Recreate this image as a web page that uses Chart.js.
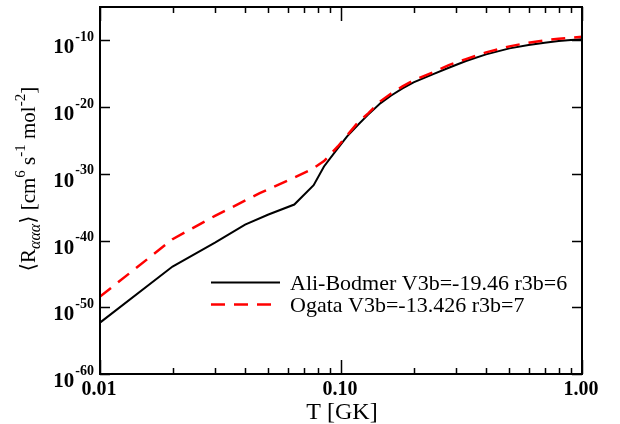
<!DOCTYPE html>
<html>
<head>
<meta charset="utf-8">
<script src="https://cdn.jsdelivr.net/npm/chart.js@4/dist/chart.umd.min.js"></script>
<style>
html,body{margin:0;padding:0;background:#fff;}
canvas{display:block;}
</style>
</head>
<body>
<canvas id="c" width="620" height="424"></canvas>
<script>
// ---- data ----
const aliT = [0.01, 0.02, 0.03, 0.04, 0.05, 0.064, 0.077, 0.085, 0.095, 0.106, 0.118, 0.129, 0.146, 0.161, 0.18, 0.2, 0.24, 0.28, 0.33, 0.4, 0.5, 0.6, 0.7, 0.8, 0.9, 1.0];
const aliR = [5.0e-53, 1.26e-44, 5.0e-41, 2.5e-38, 7.9e-37, 2.5e-35, 2.0e-32, 1.26e-29, 2.5e-27, 4.0e-25, 2.5e-23, 6.3e-22, 4.0e-20, 5.0e-19, 6.3e-18, 5.0e-17, 7.9e-16, 7.9e-15, 7.9e-14, 7.9e-13, 6.3e-12, 2.0e-11, 4.5e-11, 7.9e-11, 1.12e-10, 1.41e-10];
const ogataT = [0.01, 0.02, 0.03, 0.046, 0.062, 0.075, 0.085, 0.097, 0.117, 0.13, 0.146, 0.161, 0.18, 0.2, 0.24, 0.28, 0.33, 0.4, 0.5, 0.6, 0.7, 0.8, 0.9, 1.0];
const ogataR = [4.0e-49, 1.58e-40, 5.0e-37, 1.26e-33, 1.58e-31, 4.0e-30, 7.9e-29, 1.26e-26, 4.0e-23, 1.26e-21, 7.9e-20, 1.0e-18, 1.26e-17, 1.0e-16, 1.58e-15, 2.0e-14, 1.58e-13, 1.58e-12, 1.26e-11, 4.5e-11, 1.0e-10, 1.78e-10, 2.5e-10, 3.5e-10];
const seriesNames = ['Ali-Bodmer V3b=-19.46 r3b=6', 'Ogata V3b=-13.426 r3b=7'];
const xMajorTicks = [0.01, 0.1, 1];
const xTickLabels = ['0.01', '0.10', '1.00'];
const xMinorTicks = [0.02,0.03,0.04,0.05,0.06,0.07,0.08,0.09,0.2,0.3,0.4,0.5,0.6,0.7,0.8,0.9];
const yTicks = [1e-60, 1e-50, 1e-40, 1e-30, 1e-20, 1e-10];
const yTickExp = ['-60', '-50', '-40', '-30', '-20', '-10'];
const xTitle = 'T [GK]';

const SERIF = '"Liberation Serif","Times New Roman","DejaVu Serif",serif';

const decorPlugin = {
  id: 'decor',
  afterDraw(chart) {
    const ctx = chart.ctx;
    const xs = chart.scales.x, ys = chart.scales.y;
    const a = chart.chartArea;
    ctx.save();
    ctx.strokeStyle = '#000';
    ctx.fillStyle = '#000';
    // frame
    ctx.lineWidth = 2;
    ctx.strokeRect(a.left, a.top, a.right - a.left, a.bottom - a.top);
    // ticks (inward)
    ctx.lineWidth = 1.5;
    ctx.beginPath();
    xMajorTicks.forEach(v => {
      const px = Math.round(xs.getPixelForValue(v)) + 0.5;
      ctx.moveTo(px, a.bottom); ctx.lineTo(px, a.bottom - 14);
      ctx.moveTo(px, a.top); ctx.lineTo(px, a.top + 14);
    });
    xMinorTicks.forEach(v => {
      const px = Math.round(xs.getPixelForValue(v)) + 0.5;
      ctx.moveTo(px, a.bottom); ctx.lineTo(px, a.bottom - 6);
      ctx.moveTo(px, a.top); ctx.lineTo(px, a.top + 6);
    });
    yTicks.forEach(v => {
      const py = Math.round(ys.getPixelForValue(v)) + 0.5;
      ctx.moveTo(a.left, py); ctx.lineTo(a.left + 10, py);
      ctx.moveTo(a.right, py); ctx.lineTo(a.right - 10, py);
    });
    ctx.stroke();

    // x tick labels
    ctx.font = 'bold 20px ' + SERIF;
    ctx.textAlign = 'center';
    ctx.textBaseline = 'alphabetic';
    xMajorTicks.forEach((v, i) => {
      const px = xs.getPixelForValue(v);
      ctx.fillText(xTickLabels[i], px - 1, a.bottom + 21);
    });
    // y tick labels 10^exp
    yTicks.forEach((v, i) => {
      const py = ys.getPixelForValue(v);
      ctx.textAlign = 'left';
      ctx.font = 'bold 14px ' + SERIF;
      const ew = ctx.measureText(yTickExp[i]).width;
      const ex = 94 - ew;
      ctx.fillText(yTickExp[i], ex, py + 0.5);
      ctx.font = 'bold 21px ' + SERIF;
      const bw = ctx.measureText('10').width;
      ctx.fillText('10', ex - 1 - bw, py + 13);
    });

    // x title
    ctx.font = '24px ' + SERIF;
    ctx.textAlign = 'center';
    ctx.fillText(xTitle, 342, 419);

    // y title (rotated), pieces
    const pieces = [
      {t: '\u27E8R', f: '21px ' + SERIF, dy: 0},
      {t: '\u03B1\u03B1\u03B1', f: 'italic 16px ' + SERIF, dy: 5},
      {t: '\u27E9 [cm', f: '21px ' + SERIF, dy: 0},
      {t: '6', f: '15px ' + SERIF, dy: -10},
      {t: ' s', f: '21px ' + SERIF, dy: 0},
      {t: '-1', f: '15px ' + SERIF, dy: -10},
      {t: ' mol', f: '21px ' + SERIF, dy: 0},
      {t: '-2', f: '15px ' + SERIF, dy: -10},
      {t: ']', f: '21px ' + SERIF, dy: 0}
    ];
    let total = 0;
    pieces.forEach(p => { ctx.font = p.f; p.w = ctx.measureText(p.t).width; total += p.w; });
    ctx.save();
    ctx.translate(35, 179);
    ctx.rotate(-Math.PI / 2);
    ctx.textAlign = 'left';
    let cx = -total / 2;
    pieces.forEach(p => { ctx.font = p.f; ctx.fillText(p.t, cx, p.dy); cx += p.w; });
    ctx.restore();

    // legend
    const ds = chart.data.datasets;
    const rows = [{d: ds[1], ly: 282.5, ty: 290}, {d: ds[0], ly: 304.5, ty: 312}];
    rows.forEach(r => {
      ctx.save();
      ctx.strokeStyle = r.d.borderColor;
      ctx.lineWidth = r.d.borderWidth;
      ctx.setLineDash(r.d.borderDash || []);
      ctx.beginPath();
      ctx.moveTo(211, r.ly); ctx.lineTo(280, r.ly);
      ctx.stroke();
      ctx.restore();
      ctx.font = '22px ' + SERIF;
      ctx.textAlign = 'left';
      ctx.fillStyle = '#000';
      ctx.fillText(r.d.label, 290, r.ty);
    });
    ctx.restore();
  }
};

const toPts = (xs, ys) => xs.map((x, i) => ({x: x, y: ys[i]}));

new Chart(document.getElementById('c'), {
  type: 'line',
  data: {
    datasets: [
      {
        label: seriesNames[1],
        data: toPts(ogataT, ogataR),
        borderColor: '#ff0000',
        borderWidth: 2.5,
        borderDash: [14, 9],
        pointRadius: 0,
        tension: 0,
        order: 1
      },
      {
        label: seriesNames[0],
        data: toPts(aliT, aliR),
        borderColor: '#000000',
        borderWidth: 2,
        pointRadius: 0,
        tension: 0,
        order: 2
      }
    ]
  },
  options: {
    responsive: false,
    devicePixelRatio: 1,
    animation: false,
    layout: {padding: {top: 7, right: 38, left: 0, bottom: 0}},
    plugins: {legend: {display: false}, tooltip: {enabled: false}},
    scales: {
      x: {
        type: 'logarithmic',
        min: 0.01, max: 1,
        grid: {display: false},
        border: {display: false},
        ticks: {display: false},
        afterBuildTicks: s => { s.ticks = xMajorTicks.map(v => ({value: v})); },
        afterFit: s => { s.height = 50; }
      },
      y: {
        type: 'logarithmic',
        min: 1e-60, max: 1e-5,
        grid: {display: false},
        border: {display: false},
        ticks: {display: false},
        afterBuildTicks: s => { s.ticks = yTicks.map(v => ({value: v})); },
        afterFit: s => { s.width = 100; }
      }
    }
  },
  plugins: [decorPlugin]
});
</script>
</body>
</html>
